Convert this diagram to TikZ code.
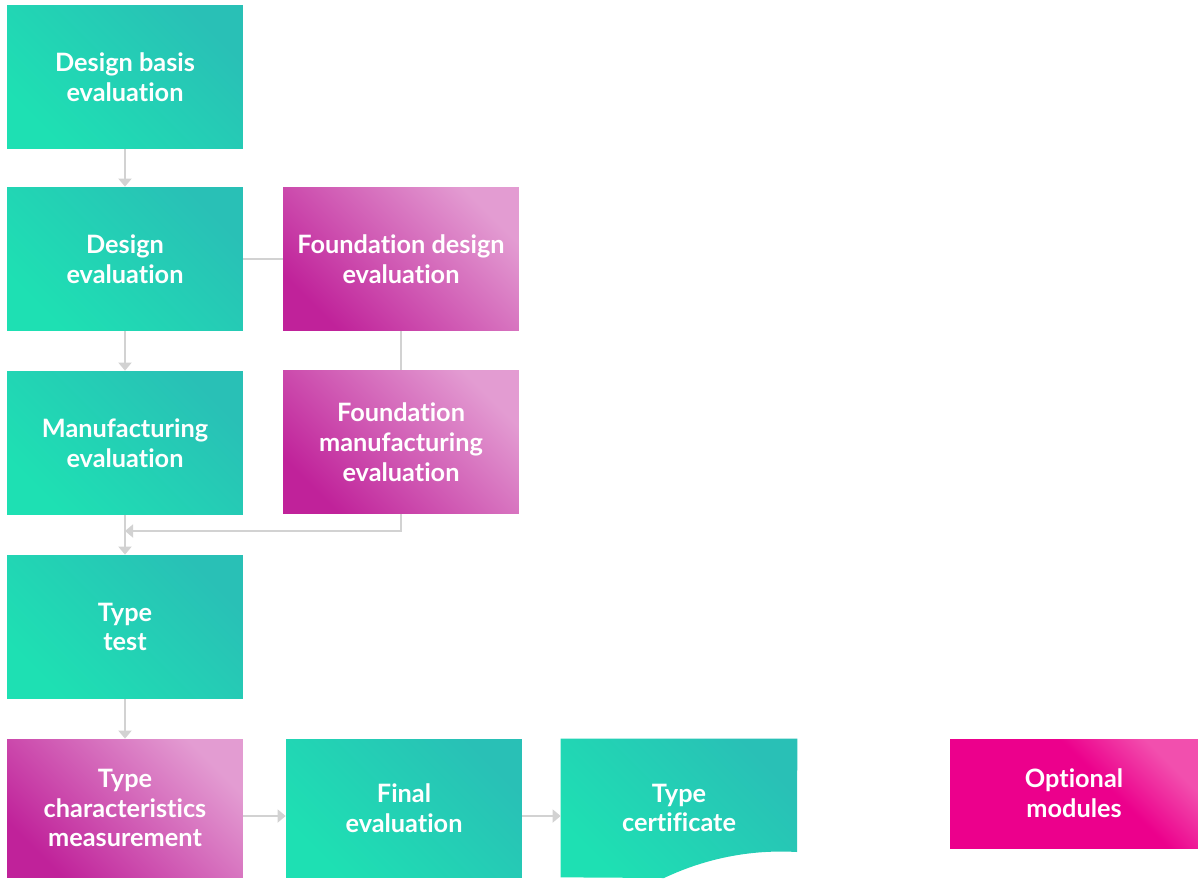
\documentclass[tikz,border=0pt]{standalone}
\usepackage{fontspec}
\setmainfont{Lato}[Ligatures={NoCommon,NoRare}]
\usetikzlibrary{arrows.meta,backgrounds}
\definecolor{teallight}{HTML}{1EE0B3}
\definecolor{tealdark}{HTML}{29C0B6}
\definecolor{magdark}{HTML}{C0229A}
\definecolor{maglight}{HTML}{E39CD2}
\definecolor{optdark}{HTML}{EC008C}
\definecolor{optlight}{HTML}{F24FAE}
\definecolor{linkgray}{HTML}{D2D2D2}
\pgfdeclareverticalshading{optshade}{100bp}{color(0bp)=(optdark); color(25bp)=(optdark);
	color(58bp)=(optdark); color(75bp)=(optlight); color(100bp)=(optlight)}
\begin{document}
\begin{tikzpicture}[x=0.02cm, y=-0.02cm,
	label/.style={text=white, font=\fontsize{14.4}{17}\selectfont\bfseries, align=center,
		minimum width=4.72cm, minimum height=2.88cm, inner sep=0pt},
	tealbox/.style={label, top color=tealdark, bottom color=teallight, shading angle=-45},
	magbox/.style={label, top color=maglight, bottom color=magdark, shading angle=-45},
	link/.style={linkgray, line width=1.1pt},
	arrow/.style={link, -{Triangle[width=7.4pt, length=4.6pt]}}]
	\useasboundingbox (0,0) rectangle (1199,879);

	\node[tealbox] (basis)  at (125,77)  {Design basis\\evaluation};
	\node[tealbox] (design) at (125,259) {Design\\evaluation};
	\node[magbox]  (fdesign) at (401,259) {Foundation design\\evaluation};
	\node[tealbox] (manuf)  at (125,443) {Manufacturing\\evaluation};
	\node[magbox]  (fmanuf) at (401,442) {Foundation\\manufacturing\\evaluation};
	\node[tealbox] (test)   at (125,627) {Type\\test};
	\node[magbox, minimum height=2.76cm]  (meas)  at (125,808) {Type\\characteristics\\measurement};
	\node[tealbox, minimum height=2.76cm] (final) at (404,808) {Final\\evaluation};
	\node[label, minimum height=2.76cm]   (cert)  at (679,808) {Type\\certificate};
	\node[label, minimum width=4.96cm, minimum height=2.18cm,
		shading=optshade, shading angle=-45]
		(opt) at (1074,793.5) {Optional\\modules};

	% certificate sheet with a curled lower edge
	\begin{scope}[on background layer]
		\shade[top color=tealdark, bottom color=teallight, shading angle=-45]
			(cert.north west) -- (cert.north east) -- (797,852)
			.. controls (745,849) and (700,861) .. (664,878)
			-- (cert.south west) -- cycle;
	\end{scope}

	\coordinate (join) at (125,531);
	\draw[arrow] (basis) -- (design);
	\draw[link] (design) -- (fdesign);
	\draw[arrow] (design) -- (manuf);
	\draw[link] (fdesign) -- (fmanuf);
	\draw[arrow] (manuf) -- (test);
	\draw[arrow] (fmanuf.south) |- (join);
	\draw[arrow] (test) -- (meas);
	\draw[arrow] ([yshift=-0.16cm]meas.east) -- ([yshift=-0.16cm]final.west);
	\draw[arrow] ([yshift=-0.16cm]final.east) -- ([yshift=-0.16cm]cert.west);
\end{tikzpicture}
\end{document}
